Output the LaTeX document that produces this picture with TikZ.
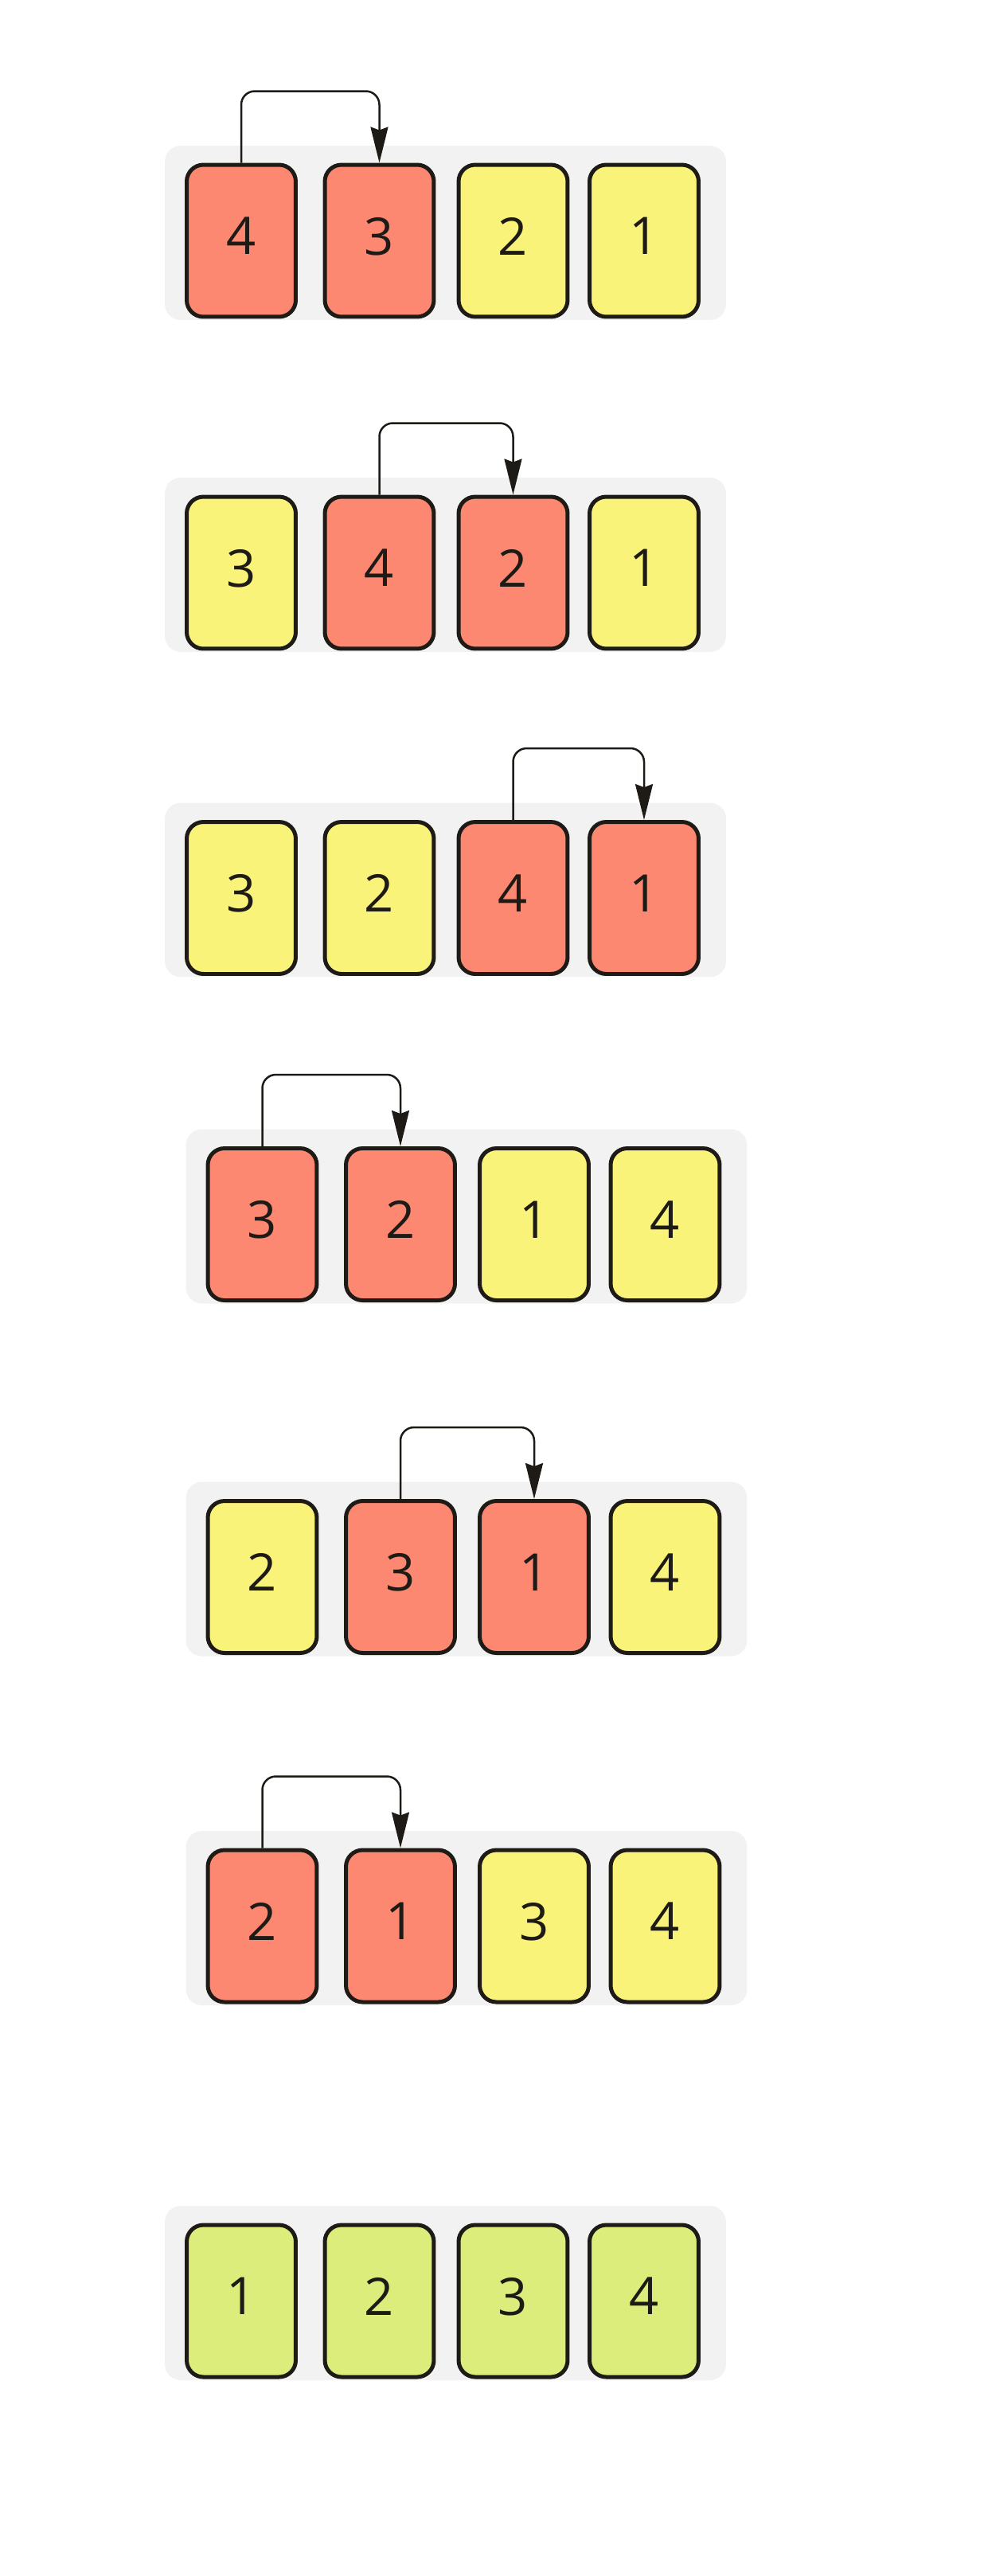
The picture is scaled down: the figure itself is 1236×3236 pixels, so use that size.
\documentclass[tikz,border=0pt]{standalone}
\usepackage{fontspec}
\newfontfamily\cardfont{Open Sans}
\usetikzlibrary{arrows.meta}
\definecolor{SwapRed}{HTML}{FD8872}
\definecolor{IdleYellow}{HTML}{F9F37A}
\definecolor{DoneGreen}{HTML}{DCED7C}
\definecolor{RowGray}{HTML}{F2F2F2}
\definecolor{InkDark}{HTML}{1E1B16}
\tikzset{
  card/.style={draw=InkDark,line width=0.1cm,rounded corners=0.42cm,
    minimum width=2.74cm,minimum height=3.82cm,inner sep=0pt,
    text depth=0.24cm,text=InkDark,font=\cardfont\fontsize{37}{40}\selectfont},
  swapcard/.style={card,fill=SwapRed},
  restcard/.style={card,fill=IdleYellow},
  donecard/.style={card,fill=DoneGreen},
  rowbg/.style={fill=RowGray,rounded corners=0.4cm,inner sep=0pt,
    minimum width=14.1cm,minimum height=4.38cm},
  swaparrow/.style={draw=InkDark,line width=0.05cm,rounded corners=0.34cm,
    -{Stealth[length=0.9cm,width=0.44cm,inset=0.08cm]}}
}

\begin{document}
\begin{tikzpicture}[x={(0.02cm,0)}, y={(0,-0.02cm)}]
  \useasboundingbox (0,0) rectangle (1236,3236);

  % one row per pass of bubble sort
  \foreach \row/\xo/\yc/\cards in {%
    1/0/302.5/{4/swapcard,3/swapcard,2/restcard,1/restcard},
    2/0/719.5/{3/restcard,4/swapcard,2/swapcard,1/restcard},
    3/0/1128/{3/restcard,2/restcard,4/swapcard,1/swapcard},
    4/26.5/1538/{3/swapcard,2/swapcard,1/restcard,4/restcard},
    5/26.5/1981/{2/restcard,3/swapcard,1/swapcard,4/restcard},
    6/26.5/2419.5/{2/swapcard,1/swapcard,3/restcard,4/restcard},
    7/0/2890.5/{1/donecard,2/donecard,3/donecard,4/donecard}}{%
    \node[rowbg] (bg\row) at (559.5+\xo,\yc-10) {};
    \foreach \v/\kind [count=\i] in \cards {%
      \pgfmathsetmacro{\cx}{{303,476.5,644.5,809}[\i-1]+\xo}
      \node[\kind] (c\row\i) at (\cx,\yc) {\v};
    }
  }

  % compare/swap arrows
  \foreach \row/\a/\b in {1/1/2,2/2/3,3/3/4,4/1/2,5/2/3,6/1/2}{%
    \draw[swaparrow] (c\row\a.north) -- ++(0,-90) -| (c\row\b.north);
  }
\end{tikzpicture}
\end{document}
